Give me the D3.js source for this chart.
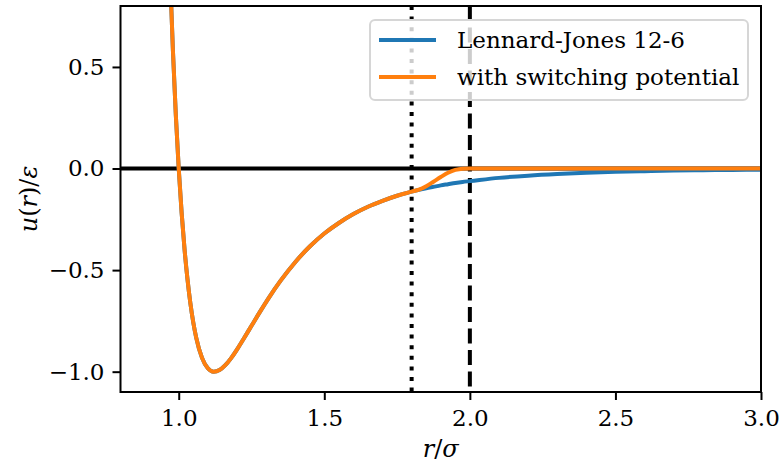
<!DOCTYPE html>
<html>
<head>
<meta charset="utf-8">
<script src="https://cdn.jsdelivr.net/npm/d3@7"></script>
<style>
  body { margin: 0; background: #fff; }
</style>
</head>
<body>
<div id="chart"></div>
<script>
// r / sigma sample points
const rValues = [0.96, 0.97, 0.98, 0.99, 1.00, 1.01, 1.02, 1.03, 1.04, 1.05, 1.06, 1.08, 1.10, 1.12, 1.14, 1.16, 1.18, 1.20, 1.22, 1.25, 1.28, 1.31, 1.35, 1.40, 1.45, 1.50, 1.55, 1.60, 1.65, 1.70, 1.75, 1.80, 1.825, 1.85, 1.875, 1.90, 1.925, 1.95, 1.975, 2.00, 2.10, 2.20, 2.30, 2.40, 2.50, 2.60, 2.70, 2.80, 2.90, 3.00];

// Lennard-Jones 12-6, u/epsilon
const ljValues = [1.418, 0.963, 0.582, 0.264, 0.000, -0.218, -0.398, -0.544, -0.663, -0.758, -0.832, -0.932, -0.983, -1.000, -0.992, -0.968, -0.933, -0.891, -0.845, -0.774, -0.703, -0.635, -0.552, -0.461, -0.384, -0.320, -0.268, -0.224, -0.188, -0.159, -0.134, -0.114, -0.105, -0.097, -0.090, -0.083, -0.077, -0.071, -0.066, -0.062, -0.046, -0.035, -0.027, -0.021, -0.016, -0.013, -0.010, -0.008, -0.007, -0.006];

// with switching potential, u/epsilon
const switchValues = [1.418, 0.963, 0.582, 0.264, 0.000, -0.218, -0.398, -0.544, -0.663, -0.758, -0.832, -0.932, -0.983, -1.000, -0.992, -0.968, -0.933, -0.891, -0.845, -0.774, -0.703, -0.635, -0.552, -0.461, -0.384, -0.320, -0.268, -0.224, -0.188, -0.159, -0.134, -0.114, -0.104, -0.087, -0.065, -0.042, -0.021, -0.007, -0.001, 0.000, 0.000, 0.000, 0.000, 0.000, 0.000, 0.000, 0.000, 0.000, 0.000, 0.000];

const seriesNames = ['Lennard-Jones 12-6', 'with switching potential'];
const seriesColors = ['#1f77b4', '#ff7f0e'];
const xTicks = [1.0, 1.5, 2.0, 2.5, 3.0];
const yTicks = [-1.0, -0.5, 0.0, 0.5];
const switchOn = 1.8;
const cutoff = 2.0;

const serif = '"DejaVu Serif", "Liberation Serif", serif';

const width = 780, height = 468;
const margin = { top: 6, right: 19, bottom: 76, left: 120.5 };

const svg = d3.select('#chart').append('svg')
    .attr('width', width)
    .attr('height', height);

// Scales
const x = d3.scaleLinear().domain([0.8, 3.0]).range([margin.left, width - margin.right]);
const y = d3.scaleLinear().domain([-1.1, 0.8]).range([height - margin.bottom, margin.top]);

svg.append('clipPath').attr('id', 'plot')
    .append('rect')
    .attr('x', x(0.8)).attr('y', y(0.8))
    .attr('width', x(3.0) - x(0.8)).attr('height', y(-1.1) - y(0.8));

const plot = svg.append('g').attr('clip-path', 'url(#plot)');

// zero line
plot.append('line')
    .attr('x1', x(0.8)).attr('x2', x(3.0))
    .attr('y1', y(0)).attr('y2', y(0))
    .attr('stroke', '#000').attr('stroke-width', 4);

// switching region markers
plot.append('line')
    .attr('x1', x(switchOn)).attr('x2', x(switchOn))
    .attr('y1', y(0.8)).attr('y2', y(-1.1))
    .attr('stroke', '#000').attr('stroke-width', 4)
    .attr('stroke-dasharray', '4,6.6');

plot.append('line')
    .attr('x1', x(cutoff)).attr('x2', x(cutoff))
    .attr('y1', y(0.8)).attr('y2', y(-1.1))
    .attr('stroke', '#000').attr('stroke-width', 4)
    .attr('stroke-dasharray', '15,6.5');

// Curves
const line = d3.line()
    .x(d => x(d[0]))
    .y(d => y(d[1]))
    .curve(d3.curveMonotoneX);

[ljValues, switchValues].forEach((vals, i) => {
  plot.append('path')
      .datum(rValues.map((r, j) => [r, vals[j]]))
      .attr('fill', 'none')
      .attr('stroke', seriesColors[i])
      .attr('stroke-width', 4)
      .attr('stroke-linejoin', 'round')
      .attr('d', line);
});

// Axes
const fmt = d3.format('.1f');
const tickFmt = d => fmt(d).replace('-', '\u2212');

const xAxis = svg.append('g')
    .attr('transform', `translate(0,${y(-1.1)})`)
    .call(d3.axisBottom(x).tickValues(xTicks).tickFormat(tickFmt).tickSize(8).tickPadding(10));

const yAxis = svg.append('g')
    .attr('transform', `translate(${x(0.8)},0)`)
    .call(d3.axisLeft(y).tickValues(yTicks).tickFormat(tickFmt).tickSize(8).tickPadding(8));

[xAxis, yAxis].forEach(a => {
  a.attr('font-family', null).attr('font-size', null);
  a.select('.domain').remove();
  a.selectAll('.tick line').attr('stroke', '#000').attr('stroke-width', 2);
  a.selectAll('.tick text').attr('fill', '#000')
      .style('font-family', serif).style('font-size', '23px');
});

// frame
svg.append('rect')
    .attr('x', x(0.8)).attr('y', y(0.8))
    .attr('width', x(3.0) - x(0.8)).attr('height', y(-1.1) - y(0.8))
    .attr('fill', 'none').attr('stroke', '#000').attr('stroke-width', 2);

// Axis labels
const xl = svg.append('text')
    .attr('x', (x(0.8) + x(3.0)) / 2)
    .attr('y', 457)
    .attr('text-anchor', 'middle')
    .style('font-family', serif)
    .style('font-size', '24px');
xl.append('tspan').style('font-style', 'italic').text('r');
xl.append('tspan').text('/');
xl.append('tspan').style('font-style', 'italic').text('\u03c3');

const yl = svg.append('text')
    .attr('transform', `translate(37,${(y(0.8) + y(-1.1)) / 2}) rotate(-90)`)
    .attr('text-anchor', 'middle')
    .style('font-family', serif)
    .style('font-size', '24px');
yl.append('tspan').style('font-style', 'italic').text('u');
yl.append('tspan').text('(');
yl.append('tspan').style('font-style', 'italic').text('r');
yl.append('tspan').text(')/');
yl.append('tspan').style('font-style', 'italic').text('\u03b5');

// Legend
const legend = svg.append('g').attr('transform', 'translate(370,20)');
legend.append('rect')
    .attr('width', 378).attr('height', 80)
    .attr('rx', 5)
    .attr('fill', '#fff').attr('fill-opacity', 0.8)
    .attr('stroke', '#d6d6d6').attr('stroke-width', 2);

seriesNames.forEach((name, i) => {
  const g = legend.append('g').attr('transform', `translate(0,${20 + i * 37})`);
  g.append('line')
      .attr('x1', 9).attr('x2', 66)
      .attr('stroke', seriesColors[i]).attr('stroke-width', 4);
  g.append('text')
      .attr('x', 87).attr('y', 8)
      .attr('fill', '#000')
      .style('font-family', serif)
      .style('font-size', '23px')
      .text(name);
});
</script>
</body>
</html>
